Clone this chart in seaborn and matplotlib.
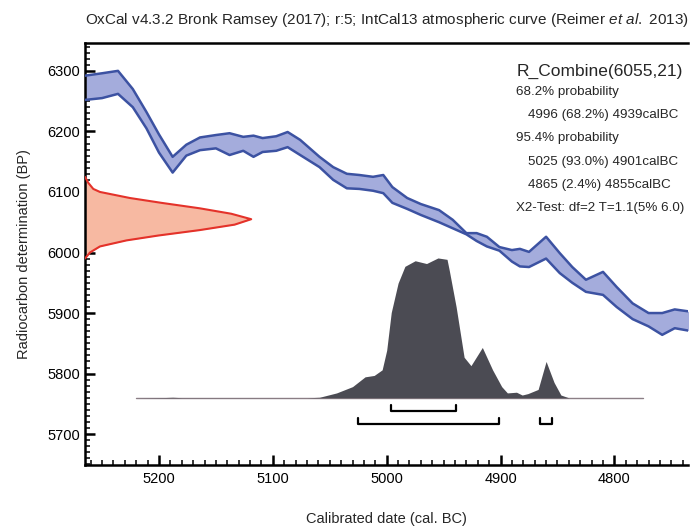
import matplotlib
matplotlib.use('Agg')
import matplotlib.pyplot as plt
from matplotlib.ticker import MultipleLocator
import pandas as pd
import seaborn as sns

# IntCal13 calibration band (cal BC vs BP)
cal_years = [5265, 5250, 5236, 5223, 5211, 5200, 5188, 5176, 5164, 5150, 5138, 5126, 5117,
             5109, 5097, 5087, 5076, 5059, 5047, 5035, 5024, 5012, 5003, 4995, 4982, 4970,
             4954, 4942, 4930, 4921, 4912, 4901, 4890, 4883, 4875, 4860, 4848, 4837, 4825,
             4810, 4798, 4784, 4770, 4758, 4747, 4732]
cal_upper = [6292, 6296, 6300, 6270, 6232, 6195, 6158, 6178, 6190, 6194, 6197, 6191, 6193,
             6189, 6192, 6199, 6186, 6158, 6141, 6130, 6128, 6125, 6128, 6108, 6090, 6080,
             6070, 6054, 6032, 6032, 6026, 6009, 6004, 6006, 6001, 6026, 5999, 5976, 5955,
             5968, 5943, 5916, 5900, 5900, 5906, 5902]
cal_lower = [6252, 6255, 6262, 6240, 6205, 6165, 6132, 6160, 6169, 6172, 6161, 6168, 6158,
             6166, 6168, 6174, 6161, 6141, 6120, 6106, 6105, 6102, 6098, 6082, 6072, 6062,
             6050, 6040, 6030, 6019, 6010, 6003, 5985, 5977, 5976, 5990, 5966, 5950, 5935,
             5930, 5910, 5890, 5878, 5864, 5875, 5870]

# R_Combine(6055,21) radiocarbon distribution on the y axis (relative density)
rc_bp = [6125, 6115, 6105, 6100, 6090, 6082, 6073, 6064, 6055, 6046, 6037, 6028, 6020,
         6010, 6000, 5990]
rc_dens = [0.0, 0.02, 0.05, 0.09, 0.27, 0.46, 0.69, 0.88, 1.0, 0.9, 0.69, 0.44, 0.25,
           0.09, 0.03, 0.0]

# calibrated posterior (relative probability)
post_years = [5220, 5195, 5188, 5180, 5070, 5059, 5044, 5030, 5019, 5011, 5004, 5000, 4996,
              4990, 4984, 4975, 4965, 4955, 4947, 4945, 4939, 4932, 4926, 4916, 4907, 4899,
              4894, 4886, 4881, 4876, 4867, 4860, 4853, 4847, 4840, 4775]
post_prob = [0.0, 0.002, 0.004, 0.001, 0.0, 0.004, 0.035, 0.08, 0.15, 0.16, 0.2, 0.34, 0.61,
             0.82, 0.94, 0.98, 0.96, 1.0, 0.99, 0.91, 0.65, 0.29, 0.23, 0.36, 0.2, 0.08,
             0.035, 0.04, 0.02, 0.03, 0.06, 0.26, 0.11, 0.02, 0.0, 0.0]

# highest posterior density ranges
range_68 = [(4996, 4939)]
range_95 = [(5025, 4901), (4865, 4855)]

info_lines = ['68.2% probability', '4996 (68.2%) 4939calBC', '95.4% probability',
              '5025 (93.0%) 4901calBC', '4865 (2.4%) 4855calBC',
              'X2-Test: df=2 T=1.1(5% 6.0)']
info_indent = [False, True, False, True, True, False]

sns.set_style('ticks')
plt.rcParams['font.family'] = ['Liberation Sans', 'DejaVu Sans']
plt.rcParams['mathtext.fontset'] = 'custom'
plt.rcParams['mathtext.rm'] = 'Liberation Sans'
plt.rcParams['mathtext.it'] = 'Liberation Sans:italic'

fig = plt.figure(figsize=(6.92, 5.27), dpi=100)
ax = fig.add_axes([0.1228, 0.1176, 0.872, 0.8008])

band = pd.DataFrame({'year': cal_years, 'upper': cal_upper, 'lower': cal_lower})
ax.fill_between(band['year'], band['lower'], band['upper'], color='#a4acdc', lw=0, zorder=2)
sns.lineplot(data=band, x='year', y='upper', sort=False, color='#3c52a2', lw=1.8, ax=ax, zorder=3)
sns.lineplot(data=band, x='year', y='lower', sort=False, color='#3c52a2', lw=1.8, ax=ax, zorder=3)

# radiocarbon distribution hanging off the left axis
x_left = 5265
rc_width = 146
rc_x = [x_left - rc_width * d for d in rc_dens]
ax.fill_betweenx(rc_bp, x_left, rc_x, color='#f7b9a2', lw=0, zorder=2)
ax.plot(rc_x, rc_bp, color='#e4322a', lw=1.5, zorder=3)

# posterior
base = 5760
post_h = 231
post = pd.DataFrame({'year': post_years, 'top': [base + post_h * p for p in post_prob]})
ax.fill_between(post['year'], base, post['top'], color='#4b4b53', lw=0, zorder=2)
ax.plot([post_years[0], post_years[-1]], [base, base], color='#8c7f86', lw=1, zorder=1)

# range brackets
for lo, hi in range_68:
    ax.plot([lo, lo, hi, hi], [5748, 5738, 5738, 5748], color='black', lw=1.6, zorder=3)
for lo, hi in range_95:
    ax.plot([lo, lo, hi, hi], [5727, 5717, 5717, 5727], color='black', lw=1.6, zorder=3)

ax.text(0.7148, 0.922, 'R_Combine(6055,21)', transform=ax.transAxes, fontsize=12.5,
        va='baseline')
for i, line in enumerate(info_lines):
    x0 = 0.7347 if info_indent[i] else 0.7148
    ax.text(x0, 0.877 - i * 0.055, line, transform=ax.transAxes, fontsize=9.6, va='baseline')

ax.set_xlim(5265, 4735)
ax.set_ylim(5649, 6346)
ax.xaxis.set_major_locator(MultipleLocator(100))
ax.xaxis.set_minor_locator(MultipleLocator(10))
ax.yaxis.set_major_locator(MultipleLocator(100))
ax.yaxis.set_minor_locator(MultipleLocator(10))
ax.tick_params(which='major', direction='in', length=7, width=1.8, labelsize=10.5, colors='black')
ax.tick_params(which='minor', direction='in', length=3.5, width=1.1, colors='black')
ax.tick_params(axis='x', which='major', pad=5)
ax.tick_params(axis='y', which='major', pad=3.5)

for s in ['left', 'bottom', 'top']:
    ax.spines[s].set_linewidth(1.8)
    ax.spines[s].set_color('black')
ax.spines['right'].set_visible(False)

ax.set_xlabel('Calibrated date (cal. BC)', fontsize=10.5)
ax.set_ylabel('Radiocarbon determination (BP)', fontsize=10.5)
ax.xaxis.set_label_coords(0.5, -0.111)
ax.yaxis.set_label_coords(-0.09, 0.5)
ax.xaxis.label.set_va('top')

ax.set_title('OxCal v4.3.2 Bronk Ramsey (2017); r:5; IntCal13 atmospheric curve (Reimer $et\\ al.\\ $2013)',
             fontsize=11, pad=14)

plt.savefig('out.png', dpi=100)
